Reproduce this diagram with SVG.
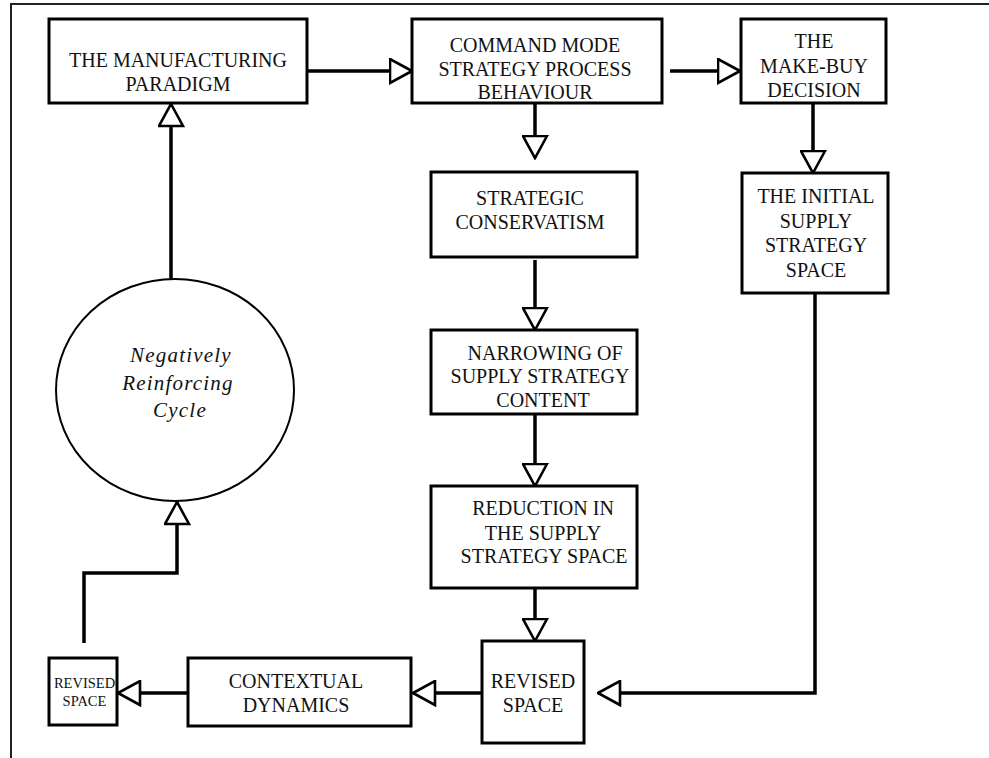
<svg xmlns="http://www.w3.org/2000/svg" width="989" height="758" viewBox="0 0 989 758">
  <style>
    .box { fill: #fff; stroke: #000; stroke-width: 3; }
    .lbl { font-family: "Liberation Serif", "Times New Roman", serif; font-size: 20px; fill: #111; text-anchor: middle; }
    .small { font-size: 14.5px; }
    .cyc { font-style: italic; font-size: 21px; letter-spacing: 1.2px; }
    .wire { fill: none; stroke: #000; stroke-width: 3.5; stroke-linejoin: miter; marker-end: url(#tri); }
    .frame { fill: none; stroke: #222; stroke-width: 2; }
  </style>
  <defs>
    <marker id="tri" markerUnits="userSpaceOnUse" viewBox="0 0 25 27" refX="23.5" refY="13.5" markerWidth="25" markerHeight="27" orient="auto">
      <path d="M1.5,1.5 L23.5,13.5 L1.5,25.5 Z" fill="#fff" stroke="#000" stroke-width="2.6" stroke-linejoin="miter"/>
    </marker>
  </defs>
  <rect width="989" height="758" fill="#fff"/>

  <!-- page frame: top rule and left rule -->
  <path class="frame" d="M11,758 V4 H989"/>

  <g id="connectors">
    <path class="wire" d="M307,71 H412"/>
    <path class="wire" d="M670,71 H740"/>
    <path class="wire" d="M535,103 V158"/>
    <path class="wire" d="M535,260 V330"/>
    <path class="wire" d="M535,414 V486"/>
    <path class="wire" d="M535,588 V641"/>
    <path class="wire" d="M813,103 V173"/>
    <path class="wire" d="M815,293 V693 H598"/>
    <path class="wire" d="M482,693 H413"/>
    <path class="wire" d="M188,693 H118"/>
    <path class="wire" d="M84,643 V573 H177 V502"/>
    <path class="wire" d="M171,279 V104"/>
  </g>

  <g id="manufacturing-paradigm">
    <rect class="box" x="49" y="19" width="258" height="84"/>
    <text class="lbl" x="178" y="67">THE MANUFACTURING</text>
    <text class="lbl" x="178" y="90.5">PARADIGM</text>
  </g>

  <g id="command-mode">
    <rect class="box" x="412" y="19" width="250" height="84"/>
    <text class="lbl" x="535" y="52">COMMAND MODE</text>
    <text class="lbl" x="535" y="75.5">STRATEGY PROCESS</text>
    <text class="lbl" x="535" y="99">BEHAVIOUR</text>
  </g>

  <g id="make-buy">
    <rect class="box" x="741" y="19" width="145" height="84"/>
    <text class="lbl" x="814" y="48">THE</text>
    <text class="lbl" x="814" y="73">MAKE-BUY</text>
    <text class="lbl" x="814" y="97">DECISION</text>
  </g>

  <g id="initial-space">
    <rect class="box" x="742" y="173" width="146" height="120"/>
    <text class="lbl" x="816" y="203">THE INITIAL</text>
    <text class="lbl" x="816" y="228">SUPPLY</text>
    <text class="lbl" x="816" y="252">STRATEGY</text>
    <text class="lbl" x="816" y="277">SPACE</text>
  </g>

  <g id="strategic-conservatism">
    <rect class="box" x="431" y="172" width="206" height="85"/>
    <text class="lbl" x="530" y="205">STRATEGIC</text>
    <text class="lbl" x="530" y="229">CONSERVATISM</text>
  </g>

  <g id="narrowing">
    <rect class="box" x="431" y="330" width="206" height="84"/>
    <text class="lbl" x="545" y="360">NARROWING OF</text>
    <text class="lbl" x="540" y="383">SUPPLY STRATEGY</text>
    <text class="lbl" x="543" y="407">CONTENT</text>
  </g>

  <g id="reduction">
    <rect class="box" x="431" y="486" width="206" height="102"/>
    <text class="lbl" x="543" y="515">REDUCTION IN</text>
    <text class="lbl" x="543" y="540">THE SUPPLY</text>
    <text class="lbl" x="544" y="563">STRATEGY SPACE</text>
  </g>

  <g id="revised-space">
    <rect class="box" x="482" y="641" width="102" height="102"/>
    <text class="lbl" x="533" y="688">REVISED</text>
    <text class="lbl" x="533" y="712">SPACE</text>
  </g>

  <g id="contextual-dynamics">
    <rect class="box" x="188" y="658" width="223" height="68"/>
    <text class="lbl" x="296" y="688">CONTEXTUAL</text>
    <text class="lbl" x="296" y="712">DYNAMICS</text>
  </g>

  <g id="revised-space-small">
    <rect class="box" x="49" y="658" width="68" height="67"/>
    <text class="lbl small" x="84.5" y="688">REVISED</text>
    <text class="lbl small" x="84.5" y="706">SPACE</text>
  </g>

  <g id="cycle">
    <ellipse cx="175" cy="390" rx="119" ry="111" fill="#fff" stroke="#000" stroke-width="2"/>
    <text class="lbl cyc" x="181" y="362">Negatively</text>
    <text class="lbl cyc" x="178" y="390">Reinforcing</text>
    <text class="lbl cyc" x="180" y="417">Cycle</text>
  </g>
</svg>
